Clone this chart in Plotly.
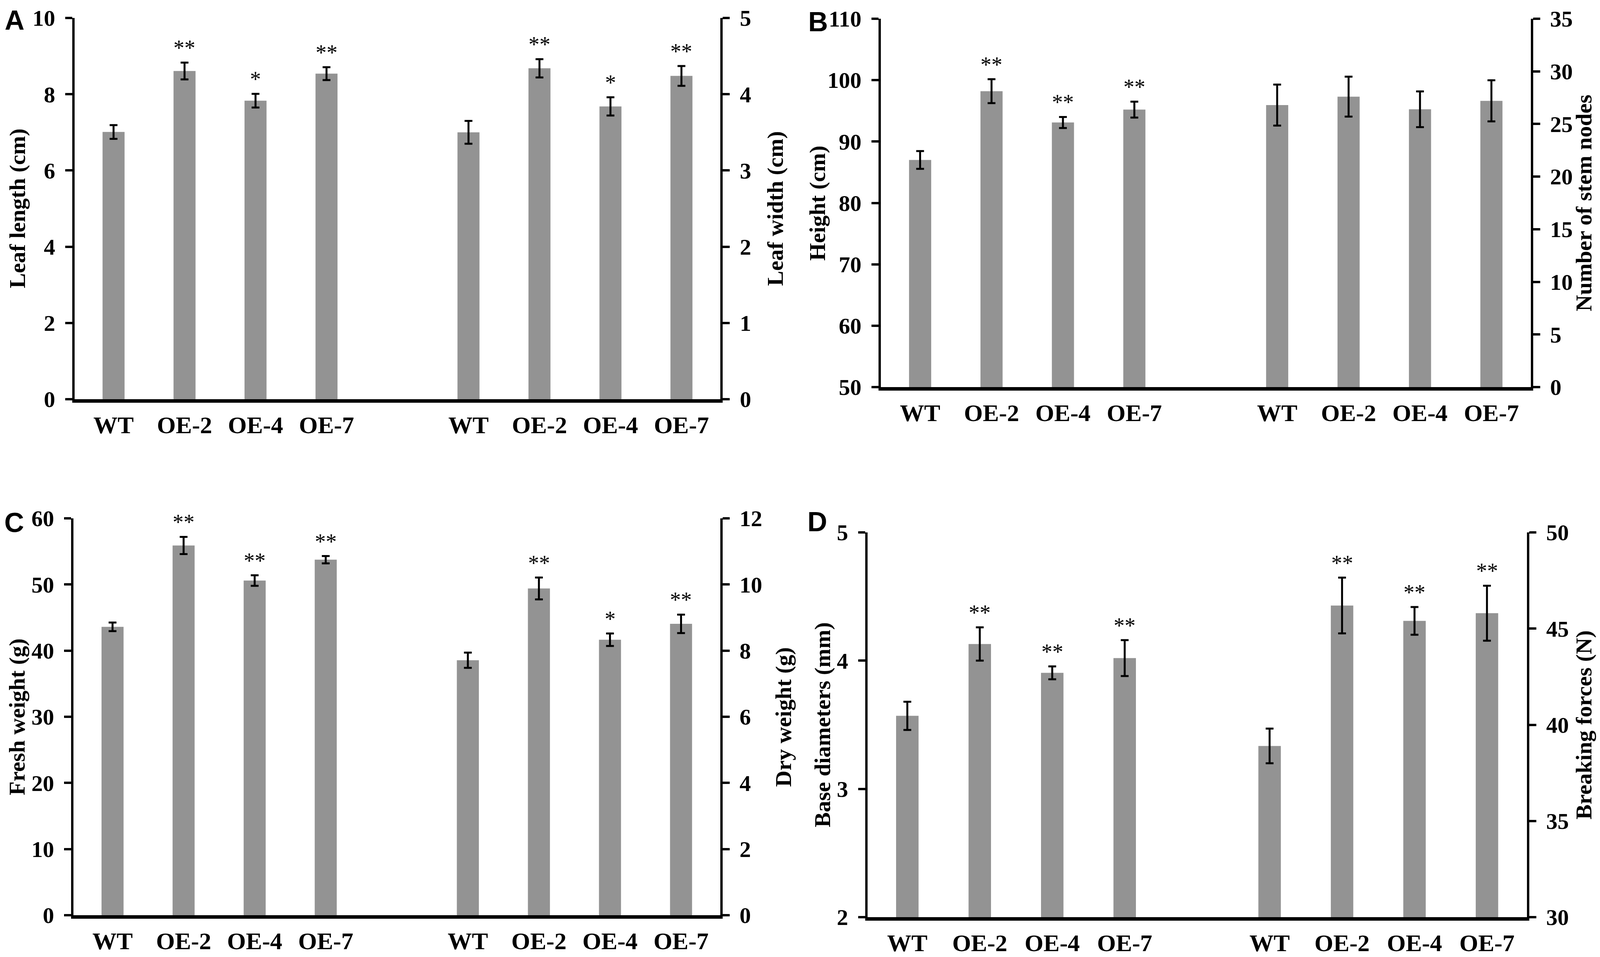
import plotly.graph_objects as go

# group labels, shown twice per panel (left measure, right measure)
lines = ["WT", "OE-2", "OE-4", "OE-7"]

# panel A
leaf_length = [7.01, 8.61, 7.83, 8.54]
leaf_length_err = [0.18, 0.22, 0.18, 0.17]
leaf_length_sig = ["", "**", "*", "**"]
leaf_width = [3.50, 4.34, 3.84, 4.24]
leaf_width_err = [0.15, 0.12, 0.12, 0.13]
leaf_width_sig = ["", "**", "*", "**"]

# panel B
height = [87.0, 98.2, 93.1, 95.2]
height_err = [1.45, 1.95, 0.9, 1.3]
height_sig = ["", "**", "**", "**"]
stem_nodes = [26.8, 27.6, 26.4, 27.2]
stem_nodes_err = [1.95, 1.9, 1.7, 1.95]
stem_nodes_sig = ["", "", "", ""]

# panel C
fresh_weight = [43.6, 55.9, 50.6, 53.75]
fresh_weight_err = [0.65, 1.3, 0.8, 0.55]
fresh_weight_sig = ["", "**", "**", "**"]
dry_weight = [7.71, 9.88, 8.33, 8.81]
dry_weight_err = [0.23, 0.33, 0.19, 0.28]
dry_weight_sig = ["", "**", "*", "**"]

# panel D
base_diameter = [3.57, 4.13, 3.905, 4.02]
base_diameter_err = [0.11, 0.13, 0.05, 0.14]
base_diameter_sig = ["", "**", "**", "**"]
breaking_force = [38.9, 46.2, 45.4, 45.8]
breaking_force_err = [0.9, 1.45, 0.72, 1.43]
breaking_force_sig = ["", "**", "**", "**"]

# the browser viewport is 4096 wide, so the layout is laid out on a
# 4550-wide reference grid and squeezed horizontally
REF_W = 4550
W, H = 4096, 2450
BAR_COLOR = "#939393"
SERIF = "Liberation Serif"

fig = go.Figure()


def px_x(v):
    return v / REF_W


def px_y(v):
    return 1 - v / H


def add_panel(i, letter, letter_pos, box, title_x, left, right):
    """
    Adds one panel: left measure on bars 0-3, right measure on bars 5-8,
    each with its own y axis. box = (x0, y_top, x1, y_bottom) in reference pixels.
    left/right = (values, errors, stars, title, range, dtick)
    """
    xname = "x" if i == 1 else f"x{i}"
    yl = 2 * i - 1
    yr = 2 * i
    ylname = "y" if yl == 1 else f"y{yl}"
    yrname = f"y{yr}"
    pos_left = list(range(len(lines)))
    pos_right = [p + len(lines) + 1 for p in pos_left]

    for pos, (vals, errs, stars, _t, _r, _d), yname in (
        (pos_left, left, ylname),
        (pos_right, right, yrname),
    ):
        fig.add_trace(
            go.Bar(
                x=pos,
                y=vals,
                width=0.31,
                marker=dict(color=BAR_COLOR, line=dict(width=0)),
                error_y=dict(
                    type="data", array=errs, color="black", thickness=5, width=10
                ),
                xaxis=xname,
                yaxis=yname,
                showlegend=False,
            )
        )
        for p, v, e, s in zip(pos, vals, errs, stars):
            if s:
                fig.add_annotation(
                    x=p,
                    y=v + e,
                    xref=xname,
                    yref=yname,
                    text=s,
                    showarrow=False,
                    xanchor="center",
                    yanchor="bottom",
                    yshift=4,
                    font=dict(family=SERIF, size=56, color="black"),
                )

    x0, yt, x1, yb = box
    ax = dict(
        showline=True,
        linecolor="black",
        linewidth=6,
        ticks="outside",
        ticklen=18,
        tickwidth=6,
        tickcolor="black",
        showgrid=False,
        zeroline=False,
        automargin=False,
        ticklabeloverflow="allow",
        ticklabelstandoff=14,
        tickformat="d",
        tickfont=dict(family=SERIF, size=58, color="black", weight="bold"),
    )
    fig.update_layout(
        {
            ("xaxis" if i == 1 else f"xaxis{i}"): dict(
                domain=[px_x(x0), px_x(x1)],
                anchor=ylname,
                range=[-0.55, 8.55],
                tickvals=pos_left + pos_right,
                ticktext=lines + lines,
                ticks="",
                showline=True,
                linecolor="black",
                linewidth=9,
                showgrid=False,
                zeroline=False,
                automargin=False,
                ticklabeloverflow="allow",
                ticklabelstandoff=4,
                tickfont=dict(family=SERIF, size=62, color="black", weight="bold"),
            ),
            ("yaxis" if yl == 1 else f"yaxis{yl}"): dict(
                ax,
                domain=[px_y(yb), px_y(yt)],
                anchor=xname,
                side="left",
                range=left[4],
                dtick=left[5],
            ),
            f"yaxis{yr}": dict(
                ax,
                overlaying=ylname,
                anchor=xname,
                side="right",
                range=right[4],
                dtick=right[5],
            ),
        }
    )

    # axis titles, read bottom to top on both sides
    for tx, spec in zip(title_x, (left, right)):
        fig.add_annotation(
            x=px_x(tx),
            y=px_y((yt + yb) / 2),
            xref="paper",
            yref="paper",
            text=spec[3],
            textangle=-90,
            showarrow=False,
            xanchor="center",
            yanchor="middle",
            font=dict(family=SERIF, size=58, color="black", weight="bold"),
        )

    fig.add_annotation(
        x=px_x(letter_pos[0]),
        y=px_y(letter_pos[1]),
        xref="paper",
        yref="paper",
        text=letter,
        showarrow=False,
        xanchor="center",
        yanchor="middle",
        font=dict(family="Liberation Sans", size=70, color="black", weight="bold"),
    )


add_panel(
    1, "A", (33, 44), (203, 38, 2040, 1014), (40, 2195),
    (leaf_length, leaf_length_err, leaf_length_sig, "Leaf length (cm)", [0, 10], 2),
    (leaf_width, leaf_width_err, leaf_width_sig, "Leaf width (cm)", [0, 5], 1),
)
add_panel(
    2, "B", (2318, 48), (2496, 40, 4344, 983), (2316, 4495),
    (height, height_err, height_sig, "Height (cm)", [50, 110], 10),
    (stem_nodes, stem_nodes_err, stem_nodes_sig, "Number of stem nodes", [0, 35], 5),
)
add_panel(
    3, "C", (32, 1330), (200, 1319, 2039, 2335), (40, 2220),
    (fresh_weight, fresh_weight_err, fresh_weight_sig, "Fresh weight (g)", [0, 60], 10),
    (dry_weight, dry_weight_err, dry_weight_sig, "Dry weight (g)", [0, 12], 2),
)
add_panel(
    4, "D", (2315, 1328), (2458, 1355, 4333, 2340), (2330, 4495),
    (base_diameter, base_diameter_err, base_diameter_sig, "Base diameters (mm)", [2, 5], 1),
    (breaking_force, breaking_force_err, breaking_force_sig, "Breaking forces (N)", [30, 50], 5),
)

fig.update_layout(
    width=W,
    height=H,
    margin=dict(l=0, r=0, t=0, b=0),
    plot_bgcolor="white",
    paper_bgcolor="white",
    barmode="overlay",
    font=dict(family=SERIF, color="black"),
)

fig.write_html("out.html")
